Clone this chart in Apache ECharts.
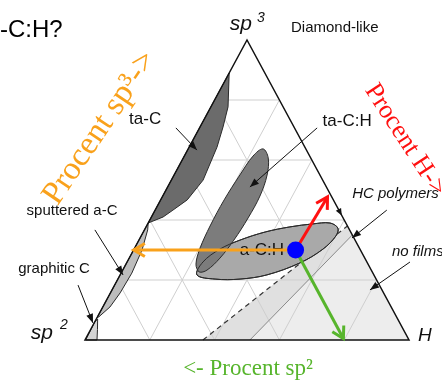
<!DOCTYPE html>
<html>
<head>
<meta charset="utf-8">
<script src="https://cdn.jsdelivr.net/npm/echarts@6/dist/echarts.min.js"></script>
<style>
  html, body { margin: 0; padding: 0; background: #fff; }
  #c { width: 442px; height: 382px; }
</style>
</head>
<body>
<div id="c"></div>
<script>
// Ternary compositions are written as [sp3 fraction, H fraction]; sp2 = 1 - sp3 - H.
const gridLevels = [0.2, 0.4, 0.6, 0.8];

const noFilmsZone    = [[0, 0.509], [0, 1], [0.35, 0.65]];
const hcPolymerZone  = [[0, 0.364], [0, 1], [0.38, 0.62]];

const taCRegion = [[0.39, 0], [0.41, 0.036], [0.433, 0.055], [0.467, 0.082], [0.533, 0.098],
                   [0.643, 0.086], [0.71, 0.071], [0.777, 0.053], [0.89, 0]];
const sputteredRegion = [[0.075, 0], [0.077, 0.004], [0.11, 0.022], [0.157, 0.03], [0.223, 0.033],
                         [0.3, 0.026], [0.367, 0.01], [0.39, 0]];
const graphiticRegion = [[0, 0.002], [0, 0.037], [0.035, 0.021], [0.07, 0.004], [0.06, 0]];
const aCHRegion = [[0.217, 0.237], [0.203, 0.3], [0.203, 0.377], [0.217, 0.453], [0.257, 0.535],
                   [0.303, 0.583], [0.347, 0.601], [0.373, 0.594], [0.39, 0.561], [0.387, 0.51],
                   [0.377, 0.444], [0.36, 0.376], [0.333, 0.312], [0.303, 0.265], [0.26, 0.234]];
const taCHRegion = [[0.637, 0.231], [0.607, 0.262], [0.55, 0.287], [0.48, 0.3], [0.407, 0.3],
                    [0.333, 0.293], [0.273, 0.28], [0.233, 0.26], [0.227, 0.239], [0.253, 0.216],
                    [0.307, 0.202], [0.38, 0.196], [0.467, 0.196], [0.55, 0.203], [0.613, 0.212]];

// Sample a-C:H composition and where its three reading arrows end.
const sample      = [0.3, 0.5];
const sp3ArrowEnd = [0.3, 0];
const hArrowEnd   = [0.477, 0.51];
const sp2ArrowEnd = [0.005, 0.795];

// Region names, label anchors and leader arrows.
const calloutTexts   = ['ta-C', 'sputtered a-C', 'graphitic C', 'ta-C:H', 'HC polymers', 'no films'];
const calloutAnchors = [[0.737, -0.183], [0.43, -0.255], [0.237, -0.214], [0.73, 0.444], [0.487, 0.581], [0.293, 0.801]];
const calloutFrom    = [[0.707, -0.073], [0.367, -0.153], [0.183, -0.113], [0.707, 0.363], [0.433, 0.715], [0.26, 0.873]];
const calloutTo      = [[0.633, 0.029], [0.217, 0.009], [0.057, -0.004], [0.51, 0.254], [0.34, 0.654], [0.167, 0.796]];
const aCHLabelAt     = [0.3, 0.396];
const edgeTick       = [0.415, 0.585];

// ---- drawing ----
const SANS = '"Liberation Sans", Arial, sans-serif';
const SERIF = '"Liberation Serif", "Times New Roman", serif';

const calloutFont = [
  { size: 17, italic: false, align: 'center' },
  { size: 15, italic: false, align: 'center' },
  { size: 15, italic: false, align: 'center' },
  { size: 17, italic: false, align: 'center' },
  { size: 15, italic: true,  align: 'left' },
  { size: 15, italic: true,  align: 'left' }
];

const toXY = p => [p[1] + p[0] / 2, p[0]];
const pt = (api, p) => api.coord(toXY(p));

function filledHead(tip, from, len, half, color) {
  const dx = tip[0] - from[0], dy = tip[1] - from[1], d = Math.hypot(dx, dy);
  const ux = dx / d, uy = dy / d;
  const bx = tip[0] - ux * len, by = tip[1] - uy * len;
  return { type: 'polygon', shape: { points: [tip, [bx - uy * half, by + ux * half], [bx + uy * half, by - ux * half]] },
           style: { fill: color } };
}
function openHead(tip, from, len, deg, color, w) {
  const a = Math.atan2(from[1] - tip[1], from[0] - tip[0]);
  const t = deg * Math.PI / 180;
  return { type: 'polyline',
           shape: { points: [[tip[0] + len * Math.cos(a + t), tip[1] + len * Math.sin(a + t)], tip,
                             [tip[0] + len * Math.cos(a - t), tip[1] + len * Math.sin(a - t)]] },
           style: { stroke: color, lineWidth: w, fill: null, lineJoin: 'miter', lineCap: 'butt' } };
}

const zones = [
  { pts: hcPolymerZone, fill: '#e0e0e0' },
  { pts: noFilmsZone, fill: '#ededed' }
];
const films = [
  { pts: taCRegion, fill: '#6b6b6b', smooth: 0 },
  { pts: sputteredRegion, fill: '#bdbdbd', smooth: 0 },
  { pts: graphiticRegion, fill: '#d4d4d4', smooth: 0 },
  { pts: aCHRegion, fill: '#a9a9a9', smooth: 0.35 },
  { pts: taCHRegion, fill: '#7c7c7c', smooth: 0.35 },
  { pts: aCHRegion, fill: null, smooth: 0.35 }
];
const compArrows = [
  { end: sp3ArrowEnd, color: '#f9a11b' },
  { end: hArrowEnd, color: '#ff1010' },
  { end: sp2ArrowEnd, color: '#57b52c' }
];

const one = [[0, 0]];
const chart = echarts.init(document.getElementById('c'));

chart.setOption({
  animation: false,
  grid: { left: 85, right: 33, top: 40, bottom: 42 },
  xAxis: { type: 'value', min: 0, max: 1, show: false },
  yAxis: { type: 'value', min: 0, max: 1, show: false },
  series: [
    { // light composition zones near the H corner
      type: 'custom', clip: false, z: 1, data: zones.map(() => [0, 0]),
      renderItem: (params, api) => {
        const z = zones[params.dataIndex];
        return { type: 'polygon', shape: { points: z.pts.map(p => pt(api, p)) }, style: { fill: z.fill } };
      }
    },
    { // ternary grid
      type: 'custom', clip: false, z: 2, data: gridLevels.map(() => [0, 0]),
      renderItem: (params, api) => {
        const k = gridLevels[params.dataIndex];
        const st = { stroke: '#cfcfcf', lineWidth: 1 };
        const seg = (a, b) => { const p = pt(api, a), q = pt(api, b);
          return { type: 'line', shape: { x1: p[0], y1: p[1], x2: q[0], y2: q[1] }, style: st }; };
        return { type: 'group', children: [
          seg([k, 0], [k, 1 - k]), seg([0, k], [1 - k, k]), seg([0, 1 - k], [1 - k, 0]) ] };
      }
    },
    { // zone boundaries
      type: 'custom', clip: false, z: 3, data: one,
      renderItem: (params, api) => {
        const a = pt(api, hcPolymerZone[0]), b = pt(api, hcPolymerZone[2]);
        const c = pt(api, noFilmsZone[0]), d = pt(api, noFilmsZone[2]);
        return { type: 'group', children: [
          { type: 'line', shape: { x1: a[0], y1: a[1], x2: b[0], y2: b[1] },
            style: { stroke: '#333', lineWidth: 1.2, lineDash: [5, 4] } },
          { type: 'line', shape: { x1: c[0], y1: c[1], x2: d[0], y2: d[1] },
            style: { stroke: '#8a8a8a', lineWidth: 1 } } ] };
      }
    },
    { // film regions
      type: 'custom', clip: false, z: 4, data: films.map(() => [0, 0]),
      renderItem: (params, api) => {
        const f = films[params.dataIndex];
        return { type: 'polygon', shape: { points: f.pts.map(p => pt(api, p)), smooth: f.smooth },
                 style: { fill: f.fill || 'none', stroke: '#2a2a2a', lineWidth: 1 } };
      }
    },
    { // triangle frame and corner labels
      type: 'custom', clip: false, z: 5, data: one,
      renderItem: (params, api) => {
        const L = pt(api, [0, 0]), R = pt(api, [0, 1]), A = pt(api, [1, 0]);
        const txt = (x, y, text, size, italic, align) => ({ type: 'text', x, y,
          style: { text, fill: '#111', font: (italic ? 'italic ' : '') + size + 'px ' + SANS,
                   align: align, verticalAlign: 'middle' } });
        const e = pt(api, edgeTick);
        return { type: 'group', children: [
          { type: 'polygon', shape: { points: [L, R, A] }, style: { fill: 'none', stroke: '#111', lineWidth: 1.5 } },
          filledHead(e, [e[0] - (R[0] - A[0]), e[1] - (R[1] - A[1])], 7, 3, '#111'),
          txt(A[0] + 5, A[1] - 16, 'sp', 21, true, 'right'),
          txt(A[0] + 10, A[1] - 22, '3', 14, true, 'left'),
          txt(A[0] + 44, A[1] - 12, 'Diamond-like', 15, false, 'left'),
          txt(L[0] - 32, L[1] - 7, 'sp', 21, true, 'right'),
          txt(L[0] - 25, L[1] - 15, '2', 14, true, 'left'),
          txt(R[0] + 9, R[1] - 4, 'H', 19, true, 'left')
        ] };
      }
    },
    { // region callouts
      type: 'custom', clip: false, z: 6, data: calloutTexts.map(() => [0, 0]),
      renderItem: (params, api) => {
        const i = params.dataIndex, f = calloutFont[i];
        const a = pt(api, calloutAnchors[i]), s = pt(api, calloutFrom[i]), t = pt(api, calloutTo[i]);
        return { type: 'group', children: [
          { type: 'line', shape: { x1: s[0], y1: s[1], x2: t[0], y2: t[1] }, style: { stroke: '#111', lineWidth: 1 } },
          filledHead(t, s, 9, 3.5, '#111'),
          { type: 'text', x: a[0], y: a[1],
            style: { text: calloutTexts[i], fill: '#111', font: (f.italic ? 'italic ' : '') + f.size + 'px ' + SANS,
                     align: f.align, verticalAlign: 'middle' } }
        ] };
      }
    },
    { // a-C:H label
      type: 'custom', clip: false, z: 7, data: one,
      renderItem: (params, api) => {
        const a = pt(api, aCHLabelAt);
        return { type: 'text', x: a[0], y: a[1],
                 style: { text: 'a-C:H', fill: '#111', font: '17px ' + SANS, align: 'center', verticalAlign: 'middle' } };
      }
    },
    { // reading arrows from the sample point
      type: 'custom', clip: false, z: 8, data: compArrows.map(() => [0, 0]),
      renderItem: (params, api) => {
        const c = compArrows[params.dataIndex];
        const s = pt(api, sample), t = pt(api, c.end);
        return { type: 'group', children: [
          { type: 'line', shape: { x1: s[0], y1: s[1], x2: t[0], y2: t[1] }, style: { stroke: c.color, lineWidth: 3 } },
          openHead(t, s, 13, 30, c.color, 3)
        ] };
      }
    },
    { // sample point
      type: 'scatter', z: 9, symbol: 'circle', symbolSize: 17,
      itemStyle: { color: '#0000ff', opacity: 1 },
      data: [toXY(sample)]
    }
  ],
  graphic: [
    { type: 'text', x: 100, y: 128, rotation: 56 * Math.PI / 180, z: 20,
      style: { text: 'Procent sp³->', fill: '#f9a11b', font: '33px ' + SERIF, align: 'center', verticalAlign: 'middle' } },
    { type: 'text', x: 405, y: 140, rotation: -57 * Math.PI / 180, z: 20,
      style: { text: 'Procent H->', fill: '#ff1010', font: '26px ' + SERIF, align: 'center', verticalAlign: 'middle' } },
    { type: 'text', x: 248, y: 369, z: 20,
      style: { text: '<- Procent sp²', fill: '#57b52c', font: '23px ' + SERIF, align: 'center', verticalAlign: 'middle' } },
    { type: 'text', x: 0, y: 30, z: 20,
      style: { text: '-C:H?', fill: '#000', font: '24px ' + SANS, align: 'left', verticalAlign: 'middle' } }
  ]
});
</script>
</body>
</html>
